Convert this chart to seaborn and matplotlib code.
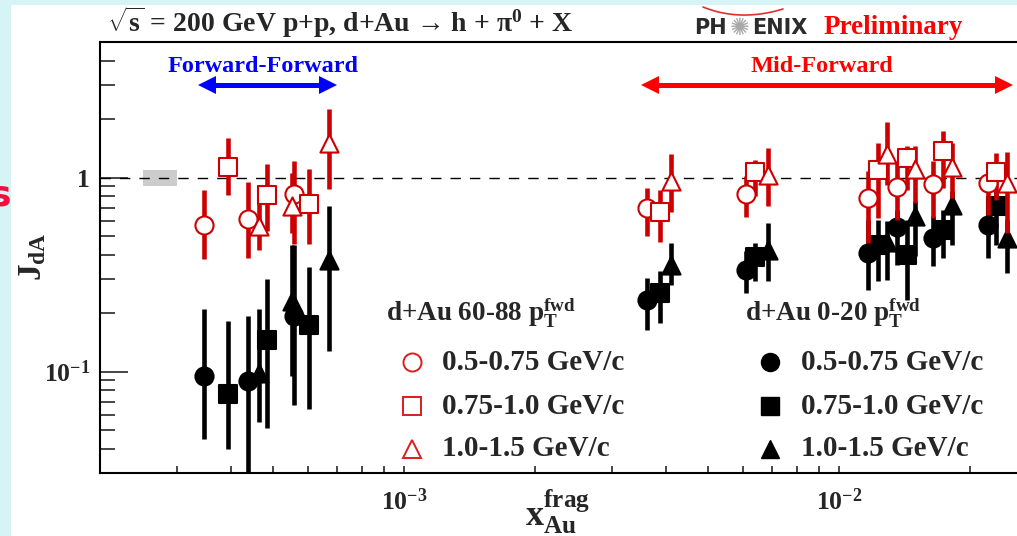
import numpy as np
import pandas as pd
import matplotlib
matplotlib.use("Agg")
import matplotlib.pyplot as plt
import seaborn as sns
from matplotlib.patches import Rectangle
from matplotlib.lines import Line2D
from matplotlib.ticker import FixedLocator, FixedFormatter, LogLocator, NullFormatter

# ---------------- data ----------------
# x_Au^frag positions for each pT bin (same for both centralities)
x_pt1 = [3.46e-4, 4.38e-4, 5.58e-4, 3.61e-3, 6.09e-3, 0.01162, 0.01355, 0.01645, 0.02197]
x_pt2 = [3.93e-4, 4.85e-4, 6.05e-4, 3.87e-3, 6.40e-3, 0.01226, 0.01429, 0.01734, 0.02292]
x_pt3 = [4.63e-4, 5.53e-4, 6.72e-4, 4.10e-3, 6.87e-3, 0.01289, 0.01493, 0.01816, 0.02430]

# d+Au 60-88 (peripheral), open red markers
per_pt1 = [0.572, 0.612, 0.824, 0.698, 0.827, 0.789, 0.899, 0.926, 0.942]
per_pt1_lo = [0.381, 0.386, 0.452, 0.502, 0.627, 0.461, 0.607, 0.620, 0.645]
per_pt1_hi = [0.860, 0.946, 1.224, 0.885, 1.024, 1.078, 1.188, 1.213, 1.167]
per_pt2 = [1.139, 0.817, 0.732, 0.662, 1.067, 1.100, 1.268, 1.370, 1.074]
per_pt2_lo = [0.817, 0.533, 0.452, 0.464, 0.801, 0.620, 0.867, 0.885, 0.770]
per_pt2_hi = [1.602, 1.181, 1.113, 0.860, 1.228, 1.510, 1.450, 1.733, 1.345]
per_pt3 = [0.566, 0.711, 1.510, 0.957, 1.036, 1.329, 1.113, 1.133, 0.937]
per_pt3_lo = [0.422, 0.520, 0.874, 0.662, 0.711, 0.920, 0.741, 0.786, 0.519]
per_pt3_hi = [0.824, 1.050, 2.260, 1.329, 1.422, 1.928, 1.450, 1.510, 1.350]

# d+Au 0-20 (central), filled black markers
cen_pt1 = [0.0946, 0.0899, 0.193, 0.235, 0.3356, 0.4107, 0.556, 0.489, 0.5725]
cen_pt1_lo = [0.045, 0.0300, 0.0676, 0.1646, 0.2544, 0.2647, 0.356, 0.349, 0.3855]
cen_pt1_hi = [0.2106, 0.194, 0.450, 0.304, 0.4205, 0.607, 0.684, 0.632, 0.770]
cen_pt2 = [0.0767, 0.145, 0.1747, 0.2544, 0.389, 0.4515, 0.401, 0.5395, 0.711]
cen_pt2_lo = [0.040, 0.0513, 0.0642, 0.178, 0.292, 0.292, 0.235, 0.3855, 0.4515]
cen_pt2_hi = [0.1817, 0.3015, 0.345, 0.329, 0.461, 0.607, 0.607, 0.684, 0.850]
cen_pt3 = [0.0985, 0.230, 0.378, 0.356, 0.4254, 0.4652, 0.633, 0.726, 0.489]
cen_pt3_lo = [0.0548, 0.095, 0.127, 0.281, 0.2945, 0.298, 0.393, 0.4515, 0.3227]
cen_pt3_hi = [0.2106, 0.450, 0.711, 0.461, 0.583, 0.600, 0.755, 0.850, 0.607]

pt_labels = ["0.5-0.75 GeV/c", "0.75-1.0 GeV/c", "1.0-1.5 GeV/c"]
per_header = r"d+Au 60-88 p$_{\mathrm{T}}^{\mathrm{fwd}}$"
cen_header = r"d+Au 0-20 p$_{\mathrm{T}}^{\mathrm{fwd}}$"
y_ticks = [0.1, 1.0]
y_ticklabels = [r"10$^{\mathrm{-1}}$", "1"]
x_ticks = [1e-3, 1e-2]
x_ticklabels = [r"10$^{\mathrm{-3}}$", r"10$^{\mathrm{-2}}$"]
norm_box_x = [2.51e-4, 3.0e-4]
norm_box_y = [0.9, 1.1]

# ---------------- style ----------------
sns.set_theme(style="ticks")
plt.rcParams["font.family"] = ["Liberation Serif", "DejaVu Serif"]
plt.rcParams["font.weight"] = "bold"
plt.rcParams["mathtext.fontset"] = "custom"
plt.rcParams["mathtext.rm"] = "Liberation Serif:bold"
plt.rcParams["mathtext.it"] = "Liberation Serif:bold"
plt.rcParams["mathtext.bf"] = "Liberation Serif:bold"
plt.rcParams["mathtext.default"] = "rm"

W, H = 1017, 536
RED = "#cc0000"
LRED = "#dd1c1c"
fig = plt.figure(figsize=(W / 100, H / 100), dpi=100)
fig.patch.set_facecolor("#d6f3f6")
fig.add_artist(Rectangle((11 / W, 0), 1, (H - 5) / H, transform=fig.transFigure,
                         facecolor="white", edgecolor="none", zorder=-10))


def fx(p):
    return p / W


def fy(p):
    return 1 - p / H


ax = fig.add_axes([fx(100), fy(473), (W - 100) / W, (473 - 42) / H])
ax.set_facecolor("none")
ax.set_xscale("log")
ax.set_yscale("log")
ax.set_xlim(2.0e-4, 0.02562)
ax.set_ylim(0.030, 5.0)

# normalisation box and unity line
ax.add_patch(Rectangle((norm_box_x[0], norm_box_y[0]), norm_box_x[1] - norm_box_x[0],
                       norm_box_y[1] - norm_box_y[0], facecolor="#cccccc", edgecolor="none", zorder=1))
ax.axhline(1.0, color="black", lw=1.0, ls=(0, (7.5, 6.5)), zorder=2)

markers = ["o", "s", "^"]
xs = [x_pt1, x_pt2, x_pt3]
cen = [(cen_pt1, cen_pt1_lo, cen_pt1_hi), (cen_pt2, cen_pt2_lo, cen_pt2_hi), (cen_pt3, cen_pt3_lo, cen_pt3_hi)]
per = [(per_pt1, per_pt1_lo, per_pt1_hi), (per_pt2, per_pt2_lo, per_pt2_hi), (per_pt3, per_pt3_lo, per_pt3_hi)]

rows = []
for cname, sets in (("0-20", cen), ("60-88", per)):
    for i, (y, lo, hi) in enumerate(sets):
        for xv, yv, l, h in zip(xs[i], y, lo, hi):
            rows.append(dict(cent=cname, pt=pt_labels[i], x=xv, y=yv, lo=l, hi=h, m=markers[i]))
df = pd.DataFrame(rows)

z = 3
for cname, col, fill in (("0-20", "black", "black"), ("60-88", RED, "white")):
    for i, lab in enumerate(pt_labels):
        d = df[(df.cent == cname) & (df.pt == lab)]
        ax.errorbar(d.x, d.y, yerr=[d.y - d.lo, d.hi - d.y], fmt="none", ecolor=col,
                    elinewidth=3.3, capsize=0, zorder=z)
        sns.scatterplot(data=d, x="x", y="y", marker=markers[i], s=170, facecolor=fill,
                        edgecolor=col, linewidth=1.5, ax=ax, zorder=z + 1, legend=False)
    z += 2

# axes styling
for s in ("left", "bottom", "top"):
    ax.spines[s].set_linewidth(1.5)
    ax.spines[s].set_color("black")
ax.spines["right"].set_visible(False)
ax.yaxis.set_major_locator(FixedLocator(y_ticks))
ax.yaxis.set_major_formatter(FixedFormatter(y_ticklabels))
ax.yaxis.set_minor_locator(LogLocator(base=10, subs=np.arange(2, 10)))
ax.yaxis.set_minor_formatter(NullFormatter())
ax.xaxis.set_major_locator(FixedLocator(x_ticks))
ax.xaxis.set_major_formatter(FixedFormatter(x_ticklabels))
ax.xaxis.set_minor_locator(LogLocator(base=10, subs=np.arange(2, 10)))
ax.xaxis.set_minor_formatter(NullFormatter())
ax.tick_params(axis="y", which="major", direction="in", length=20, width=1.2, pad=7,
               labelsize=18.5, left=True, right=False)
ax.tick_params(axis="y", which="minor", direction="in", length=11, width=1.2, left=True, right=False)
ax.tick_params(axis="x", which="both", direction="in", length=5, width=1.2, pad=11,
               labelsize=18.5, bottom=True, top=False)
ax.set_xlabel("")
ax.set_ylabel("")

# axis titles
fig.text(fx(558), fy(512), r"x$_{\mathrm{Au}}^{\mathrm{frag}}$", ha="center", va="center", size=26)
fig.text(fx(33), fy(257), r"J$_{\mathrm{dA}}$", ha="center", va="center", size=24, rotation=90)

# title
fig.text(fx(107), fy(22), r"$\sqrt{\mathrm{s}}$ = 200 GeV p+p, d+Au → h + π$^{\mathrm{0}}$ + X",
         ha="left", va="center", size=20)

# PHENIX Preliminary
fig.text(fx(694), fy(28), "PH", ha="left", va="center", size=15, family="DejaVu Sans",
         weight="bold", color="#2b2b2b")
fig.text(fx(740), fy(28), "\u273a", ha="center", va="center", size=17, family="DejaVu Sans",
         color="#a8a8a8")
fig.text(fx(752), fy(28), "ENIX", ha="left", va="center", size=15, family="DejaVu Sans",
         weight="bold", color="#2b2b2b")
t = np.linspace(0, 1, 40)
arc_x = (1 - t) ** 2 * 703 + 2 * (1 - t) * t * 740 + t ** 2 * 783
arc_y = (1 - t) ** 2 * 7 + 2 * (1 - t) * t * 22 + t ** 2 * 9
fig.add_artist(Line2D(fx(arc_x), fy(arc_y), color="#e03030", lw=1.2, transform=fig.transFigure))
fig.text(fx(824), fy(27), "Preliminary", ha="left", va="center", size=19.5, color="#ff0000")

# region annotations
fig.text(fx(263), fy(67), "Forward-Forward", ha="center", va="center", size=17.5, color="#0000ff")
fig.text(fx(822), fy(67), "Mid-Forward", ha="center", va="center", size=17.5, color="#ff0000")


def dbl_arrow(x0, x1, y, col):
    fig.add_artist(Line2D([fx(x0 + 10), fx(x1 - 10)], [fy(y), fy(y)], color=col, lw=3.6,
                          solid_capstyle="butt", transform=fig.transFigure))
    fig.add_artist(Line2D([fx(x0 + 9)], [fy(y)], marker="<", ms=13, color=col, mew=0,
                          transform=fig.transFigure))
    fig.add_artist(Line2D([fx(x1 - 9)], [fy(y)], marker=">", ms=13, color=col, mew=0,
                          transform=fig.transFigure))


dbl_arrow(198, 337, 85, "#0000ff")
dbl_arrow(641, 1013, 85, "#ff0000")

# legends
fig.text(fx(386), fy(313), per_header, ha="left", va="center", size=19.5)
fig.text(fx(745), fy(313), cen_header, ha="left", va="center", size=19.5)
for i, lab in enumerate(pt_labels):
    yy = [362, 406, 449][i]
    fig.add_artist(Line2D([fx(412)], [fy(yy)], marker=markers[i], ms=13, mfc="white", mec=LRED,
                          mew=1.4, ls="none", transform=fig.transFigure))
    fig.text(fx(442), fy(yy), lab, ha="left", va="center", size=21)
    fig.add_artist(Line2D([fx(770)], [fy(yy)], marker=markers[i], ms=13, mfc="black", mec="black",
                          mew=1.0, ls="none", transform=fig.transFigure))
    fig.text(fx(801), fy(yy), lab, ha="left", va="center", size=21)

# slide fragment at the left edge
fig.text(fx(10.5), fy(206), "s", ha="right", va="baseline", size=26, family="DejaVu Sans",
         weight="bold", color="#f0103c")

fig.savefig("out.png", dpi=100, facecolor=fig.get_facecolor())
